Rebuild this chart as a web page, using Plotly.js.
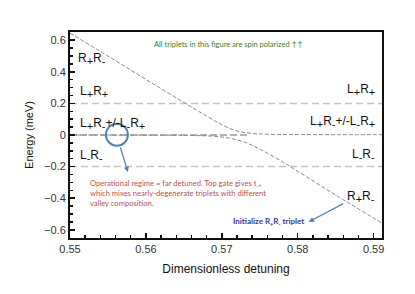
<!DOCTYPE html>
<html>
<head>
<meta charset="utf-8">
<script src="https://cdn.plot.ly/plotly-3.0.1.min.js"></script>
<style>html,body{margin:0;padding:0;background:#fff;}#chart{width:415px;height:294px;}</style>
</head>
<body>
<div id="chart"></div>
<script>
// Upper branch: R+R- diagonal coming down, flattening at 0 after the anticrossing
const upperX = [0.550, 0.555, 0.560, 0.565, 0.568, 0.570, 0.572, 0.574, 0.576, 0.580, 0.585, 0.5911];
const upperY = [0.645, 0.500, 0.352, 0.206, 0.120, 0.065, 0.025, 0.010, 0.005, 0.003, 0.002, 0.002];
// Lower branch: flat at 0 on the left, then bending down along the diagonal
const lowerX = [0.550, 0.560, 0.566, 0.569, 0.571, 0.573, 0.575, 0.578, 0.580, 0.585, 0.5911];
const lowerY = [0.000, -0.001, -0.003, -0.008, -0.020, -0.045, -0.090, -0.170, -0.230, -0.380, -0.558];
// Flat levels L+R+, L-R- and the degenerate pair at 0 (left part)
const levelX = [0.55, 0.5911];
const levelPlus = [0.2, 0.2];
const levelMinus = [-0.2, -0.2];
const zeroX = [0.55, 0.5735];
const zeroY = [0, 0];

const traces = [
  {x: levelX, y: levelPlus, mode: 'lines', line: {color: '#c4c4c4', width: 1.5, dash: '7px,4px'}, hoverinfo: 'skip'},
  {x: levelX, y: levelMinus, mode: 'lines', line: {color: '#c4c4c4', width: 1.5, dash: '7px,4px'}, hoverinfo: 'skip'},
  {x: zeroX, y: zeroY, mode: 'lines', line: {color: '#9a9a9a', width: 1.5, dash: '7px,3px'}, hoverinfo: 'skip'},
  {x: lowerX, y: lowerY, mode: 'lines', line: {color: '#8a8a8a', width: 1, dash: '4px,2px', shape: 'spline'}, hoverinfo: 'skip'},
  {x: upperX, y: upperY, mode: 'lines', line: {color: '#8a8a8a', width: 1, dash: '4px,2px', shape: 'spline'}, hoverinfo: 'skip'}
];

const S = s => '<sub><span style="font-size:11px">' + s + '</span></sub>';
const lab = {family: 'Liberation Sans, Arial, sans-serif', size: 12, color: '#111'};
const ann = [
  {x: 0.55079, y: 0.48, text: 'R' + S('+') + 'R' + S('-'), xanchor: 'left'},
  {x: 0.55105, y: 0.272, text: 'L' + S('+') + 'R' + S('+'), xanchor: 'left'},
  {x: 0.55105, y: 0.069, text: 'L' + S('+') + 'R' + S('-') + '+/-L' + S('-') + 'R' + S('+'), xanchor: 'left'},
  {x: 0.55105, y: -0.133, text: 'L' + S('-') + 'R' + S('-'), xanchor: 'left'},
  {x: 0.5904, y: 0.284, text: 'L' + S('+') + 'R' + S('+'), xanchor: 'right'},
  {x: 0.5904, y: 0.082, text: 'L' + S('+') + 'R' + S('-') + '+/-L' + S('-') + 'R' + S('+'), xanchor: 'right'},
  {x: 0.5904, y: -0.126, text: 'L' + S('-') + 'R' + S('-'), xanchor: 'right'},
  {x: 0.5904, y: -0.39, text: 'R' + S('+') + 'R' + S('-'), xanchor: 'right'}
].map(a => Object.assign({xref: 'x', yref: 'y', showarrow: false, yanchor: 'middle', font: lab}, a));

ann.push({xref: 'x', yref: 'y', x: 0.57092, y: 0.575, showarrow: false, xanchor: 'center', yanchor: 'middle',
  text: 'All triplets in this figure are spin polarized \u2191\u2191',
  font: {family: 'Lato, Open Sans, sans-serif', size: 7.5, color: '#2f7f2f'}});
ann.push({xref: 'x', yref: 'y', x: 0.55237, y: -0.262, showarrow: false, xanchor: 'left', yanchor: 'top', align: 'left',
  text: 'Operational regime = far detuned. Top gate gives t<sub>-+</sub><br>which mixes nearly-degenerate triplets with different<br>valley composition.',
  font: {family: 'Lato, Open Sans, sans-serif', size: 7.6, color: '#c0504d'}});
ann.push({xref: 'x', yref: 'y', x: 0.58105, y: -0.55, showarrow: false, xanchor: 'right', yanchor: 'middle',
  text: '<b>Initialize R<sub>+</sub>R<sub>-</sub> triplet</b>',
  font: {family: 'Lato, Open Sans, sans-serif', size: 8, color: '#3434a8'}});
// arrows
ann.push({xref: 'x', yref: 'y', x: 0.55763, y: -0.234, ax: -8, ay: -26, text: '', showarrow: true,
  arrowhead: 2, arrowsize: 0.8, arrowwidth: 1.3, arrowcolor: '#4f81bd'});
ann.push({xref: 'x', yref: 'y', x: 0.58145, y: -0.55, ax: 36, ay: -19, text: '', showarrow: true,
  arrowhead: 2, arrowsize: 0.8, arrowwidth: 1.3, arrowcolor: '#4f81bd'});

const layout = {
  width: 415, height: 294,
  margin: {l: 70, r: 33, t: 32, b: 56},
  paper_bgcolor: '#fff', plot_bgcolor: '#fff',
  showlegend: false,
  font: {family: 'Liberation Sans, Arial, sans-serif', color: '#333'},
  xaxis: {
    range: [0.55, 0.5911], dtick: 0.01, tick0: 0.55, tickformat: '.2f',
    showgrid: false, zeroline: false,
    showline: true, linecolor: '#111', linewidth: 2, mirror: true,
    ticks: 'inside', ticklen: 5, tickwidth: 1.5, tickcolor: '#111',
    minor: {dtick: 0.002, ticks: 'inside', ticklen: 3, tickcolor: '#111', showgrid: false},
    tickfont: {size: 11, color: '#333'},
    title: {text: 'Dimensionless detuning', font: {size: 12, color: '#111'}, standoff: 10}
  },
  yaxis: {
    range: [-0.652, 0.652], dtick: 0.2, tick0: 0, tickformat: '.1~f',
    showgrid: false, zeroline: false,
    showline: true, linecolor: '#111', linewidth: 2, mirror: true,
    ticks: 'inside', ticklen: 5, tickwidth: 1.5, tickcolor: '#111',
    minor: {dtick: 0.05, ticks: 'inside', ticklen: 3, tickcolor: '#111', showgrid: false},
    tickfont: {size: 11, color: '#333'},
    title: {text: 'Energy (meV)', font: {size: 11, color: '#111'}, standoff: 8}
  },
  shapes: [{
    type: 'circle', xref: 'x', yref: 'y', xsizemode: 'pixel', ysizemode: 'pixel',
    xanchor: 0.55618, yanchor: 0.002, x0: -11, x1: 11, y0: -11, y1: 11,
    line: {color: '#4f81bd', width: 2}
  }],
  annotations: ann
};

Plotly.newPlot('chart', traces, layout, {staticPlot: true, displayModeBar: false});
</script>
</body>
</html>
